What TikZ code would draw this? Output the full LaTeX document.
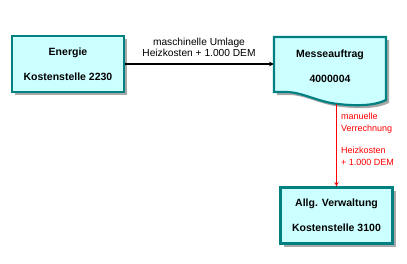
\documentclass[tikz,border=0pt]{standalone}
\usepackage{fontspec}
\setmainfont{Liberation Sans}
\usetikzlibrary{arrows,calc,positioning,shadows}
\definecolor{boxfill}{HTML}{CCFFFF}
\definecolor{boxline}{HTML}{008080}
\definecolor{shadowgray}{HTML}{A8A8A8}

\begin{document}
\begin{tikzpicture}[>=stealth, x=1pt, y=-1pt,
    kshadow/.style={drop shadow={shadow xshift=3pt, shadow yshift=-3pt, fill=shadowgray, opacity=1}},
    ktext/.style={align=center, inner sep=0pt, minimum width=112pt, minimum height=56pt,
      font=\fontsize{10.5}{13}\selectfont\bfseries},
    kbox/.style={ktext, draw=boxline, fill=boxfill, line width=2.2pt, kshadow},
    lbl/.style={align=center, font=\fontsize{10.2}{11.5}\selectfont},
    redlbl/.style={align=left, anchor=west, text=red, inner sep=0pt, font=\fontsize{9}{11.5}\selectfont}]
    \useasboundingbox (0,0) rectangle (407,263);
    % cost centres
    \node[kbox] (energie) at (68,64) {Energie\\[12pt]Kostenstelle 2230};
    \node[kbox] (verwaltung) at (336.5,215.5) {Allg. Verwaltung\\[12pt]Kostenstelle 3100};
    % order as a document shape
    \path[draw=boxline, fill=boxfill, line width=2.2pt, kshadow]
      (274,37) -- (386,37) -- (386,100)
      .. controls (374,106) and (356,106) .. (338,104)
      .. controls (318,102) and (302,92) .. (286,92) -- (274,92) -- cycle;
    \node[ktext] (messe) at (330,66) {Messeauftrag\\[12pt]4000004};
    \coordinate (messe bottom) at (336.5,104);
    % machine allocation
    \draw[->, line width=1.1pt] (energie.east) -- (energie.east -| messe.west);
    \node[lbl] (umlage) at (199,47.5) {maschinelle Umlage\\Heizkosten + 1.000 DEM};
    % manual settlement
    \draw[->, red, line width=0.9pt] (messe bottom) -- (verwaltung.north);
    \node[redlbl] (verrechnung) at (341,123) {manuelle\\Verrechnung};
    \node[redlbl] (heizkosten) at (341,156.5) {Heizkosten\\+ 1.000 DEM};
\end{tikzpicture}
\end{document}
